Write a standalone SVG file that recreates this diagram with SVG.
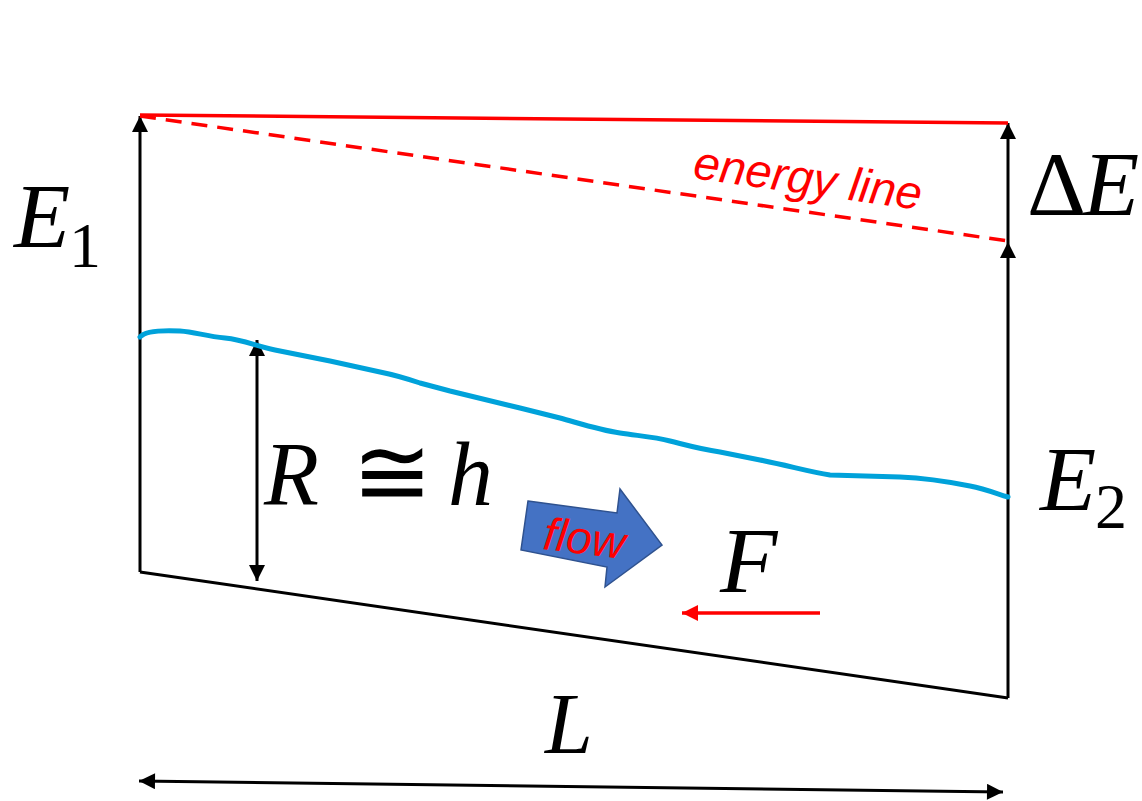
<svg xmlns="http://www.w3.org/2000/svg" width="1142" height="801" viewBox="0 0 1142 801">
<defs>
<style>
.blk{stroke:#000;stroke-width:3;fill:none}
.red{stroke:#F00;stroke-width:3.5;fill:none}
.math{font-family:"Liberation Serif","DejaVu Serif",serif;fill:#000}
.it{font-style:italic}
.lbl{font-family:"Liberation Sans",Arial,sans-serif;font-style:italic;fill:#F00}
</style>
<marker id="ah" viewBox="0 0 10 10" refX="10" refY="5" markerWidth="17" markerHeight="16" markerUnits="userSpaceOnUse" orient="auto-start-reverse">
<path d="M0,0 L10,5 L0,10 Z" fill="#000"/>
</marker>
<marker id="ahr" viewBox="0 0 10 10" refX="10" refY="5" markerWidth="17" markerHeight="16" markerUnits="userSpaceOnUse" orient="auto">
<path d="M0,0 L10,5 L0,10 Z" fill="#F00"/>
</marker>
</defs>
<rect width="1142" height="801" fill="#fff"/>

<g id="connectors">
<line class="blk" x1="140" y1="572" x2="140" y2="116" marker-end="url(#ah)"/>
<line class="blk" x1="140" y1="572" x2="1008" y2="698"/>
<line class="blk" x1="1008" y1="698" x2="1008" y2="242" marker-end="url(#ah)"/>
<line class="blk" x1="1008" y1="242" x2="1008" y2="123" marker-end="url(#ah)"/>
<line class="blk" x1="257" y1="340" x2="257" y2="581" stroke-width="2.5" marker-start="url(#ah)" marker-end="url(#ah)"/>
<line class="blk" x1="139" y1="781" x2="1003" y2="792" stroke-width="3.5" marker-start="url(#ah)" marker-end="url(#ah)"/>
<line class="red" x1="140" y1="115" x2="1008" y2="123"/>
<line class="red" x1="140" y1="116" x2="1008" y2="241" stroke-dasharray="16 10"/>
<line class="red" x1="820" y1="613" x2="682" y2="613" marker-end="url(#ahr)"/>
</g>

<g id="water">
<path d="M140,337 C145,331 160,330 180,331 C195,332 205,336 225,338 C245,340 255,346 275,350 L330,361 L380,372 C395,375 405,378 420,383 L450,391 L520,408 L560,418 C585,425 600,430 620,433 C640,436 655,437 670,441 C690,446 700,449 720,452 L760,460 C790,466 810,472 830,475 L900,477 C925,478 945,481 970,486 C985,489 995,493 1008,497" fill="none" stroke="#00A2DA" stroke-width="5" stroke-linecap="round"/>
</g>

<g id="flow-arrow">
<polygon points="528,501 617,513 620,489 662,545 605,587 607,567 521,550" fill="#4472C4" stroke="#2F528F" stroke-width="1.5"/>
<text class="lbl" x="542" y="549" font-size="46" transform="rotate(7 542 549)">flow</text>
</g>

<g id="energy-label">
<text class="lbl" x="692" y="178" font-size="47" transform="rotate(8 692 178)">energy line</text>
</g>

<g id="E1">
<text class="math it" x="14" y="247" font-size="92">E</text>
<text class="math" x="69" y="267" font-size="64">1</text>
</g>

<g id="dE">
<text class="math" x="1027" y="215" font-size="92">Δ</text>
<text class="math it" x="1083" y="215" font-size="92">E</text>
</g>

<g id="E2">
<text class="math it" x="1040" y="510" font-size="92">E</text>
<text class="math" x="1095" y="528" font-size="64">2</text>
</g>

<g id="Rh">
<text class="math it" x="264" y="505" font-size="90">R</text>
<text class="math" x="352" y="505" font-size="96">≅</text>
<text class="math it" x="448" y="505" font-size="90">h</text>
</g>

<g id="F">
<text class="math it" x="720" y="592" font-size="94">F</text>
</g>

<g id="L">
<text class="math it" x="545" y="753" font-size="86">L</text>
</g>
</svg>
